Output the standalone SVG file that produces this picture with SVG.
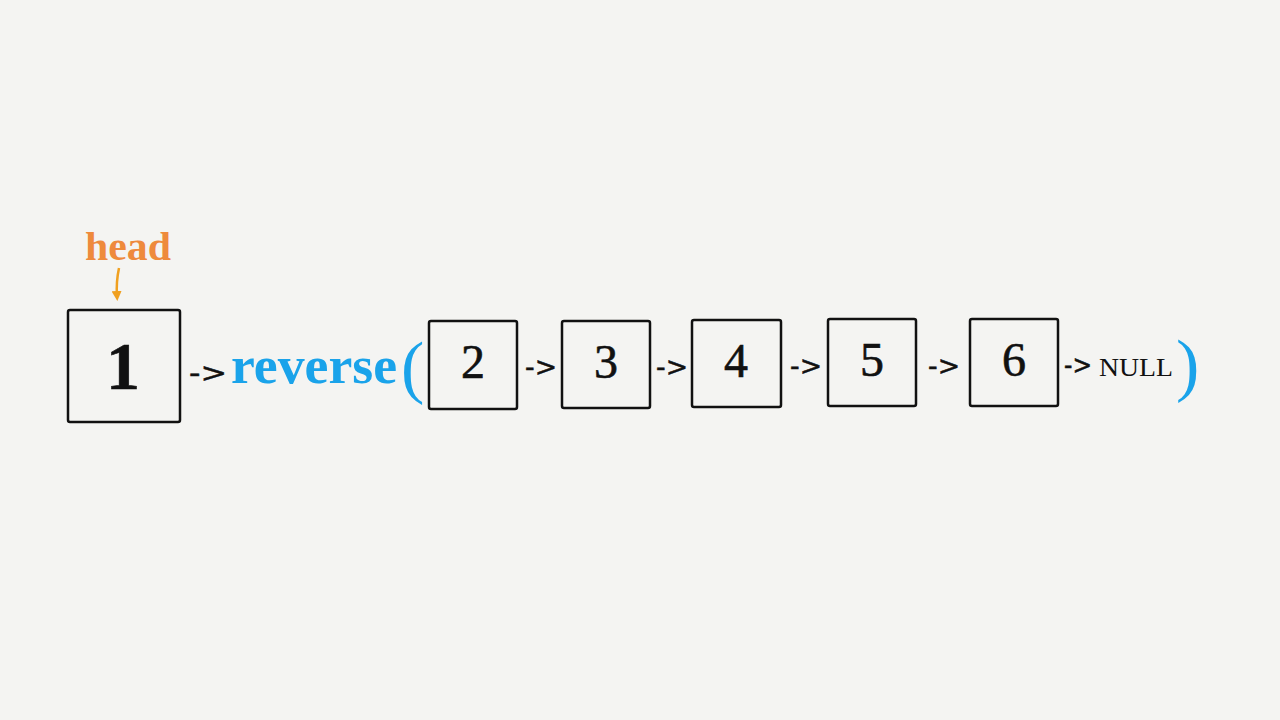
<svg xmlns="http://www.w3.org/2000/svg" width="1280" height="720" viewBox="0 0 1280 720">
<style>
.box{fill:none;stroke:#111;stroke-width:2.5}
.num{font-family:"Liberation Serif",serif;fill:#111;text-anchor:middle;stroke:#111;stroke-width:0.6}
.arr{font-family:"DejaVu Sans",sans-serif;font-size:27px;fill:#111;stroke:#111;stroke-width:0.5}
.blue{fill:#1aa3ea;font-family:"Liberation Serif",serif;font-weight:bold}
</style>
<defs>
<marker id="oh" viewBox="0 0 10 10" refX="5" refY="5" markerWidth="4" markerHeight="4" orient="auto"><path d="M0,0 L10,5 L0,10 z" fill="#f0a020"/></marker>
</defs>
<rect width="1280" height="720" fill="#f4f4f2"/>
<g id="head-label">
<text x="85" y="260" font-family="Liberation Serif,serif" font-size="40" font-weight="bold" fill="#ee8a3c" textLength="86" lengthAdjust="spacingAndGlyphs">head</text>
</g>
<g id="connectors">
<path d="M119,268 Q116,282 117,296" fill="none" stroke="#f0a020" stroke-width="2.5" marker-end="url(#oh)"/>
<text class="arr" x="189" y="382" textLength="38" lengthAdjust="spacingAndGlyphs">-&gt;</text>
<text class="arr" x="525" y="376" textLength="32" lengthAdjust="spacingAndGlyphs">-&gt;</text>
<text class="arr" x="656" y="376" textLength="32" lengthAdjust="spacingAndGlyphs">-&gt;</text>
<text class="arr" x="790" y="375" textLength="32" lengthAdjust="spacingAndGlyphs">-&gt;</text>
<text class="arr" x="928" y="375" textLength="32" lengthAdjust="spacingAndGlyphs">-&gt;</text>
<text class="arr" x="1064" y="374" textLength="28" lengthAdjust="spacingAndGlyphs">-&gt;</text>
</g>
<g id="node1"><rect class="box" x="68" y="310" width="112" height="112" rx="2"/><text class="num" x="123" y="389" font-size="68" font-weight="bold" stroke-width="0">1</text></g>
<g id="reverse"><text class="blue" x="231" y="383" font-size="52" textLength="166" lengthAdjust="spacingAndGlyphs">reverse</text>
<text x="401" y="390" font-family="Liberation Serif,serif" font-size="70" fill="#1aa3ea">(</text>
<text x="1176" y="388" font-family="Liberation Serif,serif" font-size="70" fill="#1aa3ea">)</text></g>
<g id="node2"><rect class="box" x="429" y="321" width="88" height="88" rx="2"/><text class="num" x="473" y="378" font-size="48">2</text></g>
<g id="node3"><rect class="box" x="562" y="321" width="88" height="87" rx="2"/><text class="num" x="606" y="378" font-size="48">3</text></g>
<g id="node4"><rect class="box" x="692" y="320" width="89" height="87" rx="2"/><text class="num" x="736" y="377" font-size="48">4</text></g>
<g id="node5"><rect class="box" x="828" y="319" width="88" height="87" rx="2"/><text class="num" x="872" y="376" font-size="48">5</text></g>
<g id="node6"><rect class="box" x="970" y="319" width="88" height="87" rx="2"/><text class="num" x="1014" y="376" font-size="48">6</text></g>
<g id="null"><text x="1099" y="376" font-family="Liberation Serif,serif" font-size="26" fill="#111" textLength="74" lengthAdjust="spacingAndGlyphs">NULL</text></g>
</svg>
